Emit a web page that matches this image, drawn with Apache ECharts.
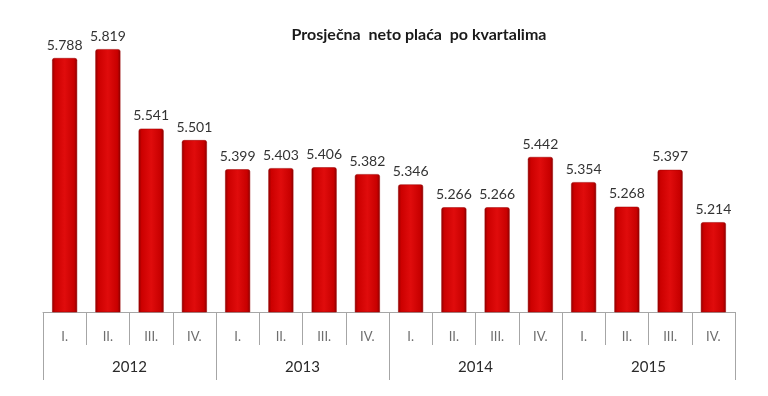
<!DOCTYPE html>
<html><head><meta charset="utf-8">
<script src="https://cdn.jsdelivr.net/npm/echarts@6/dist/echarts.min.js"></script>
<style>html,body{margin:0;padding:0;background:#fff}#c{width:768px;height:396px}</style>
</head><body><div id="c"></div>
<script>
const titleText = 'Prosječna  neto plaća  po kvartalima';
const quarters = ['I.','II.','III.','IV.','I.','II.','III.','IV.','I.','II.','III.','IV.','I.','II.','III.','IV.'];
const years = ['2012','2013','2014','2015'];
const values = [5788,5819,5541,5501,5399,5403,5406,5382,5346,5266,5266,5442,5354,5268,5397,5214];

function fmt(v){ const s=String(Math.round(v)); return s.slice(0,s.length-3)+'.'+s.slice(-3); }

const chart = echarts.init(document.getElementById('c'));
const barColor = new echarts.graphic.LinearGradient(0,0,1,0,[
  {offset:0,color:'#900000'},{offset:0.12,color:'#cc0000'},{offset:0.5,color:'#e00c0c'},
  {offset:0.88,color:'#c80000'},{offset:1,color:'#8c0000'}]);
chart.setOption({
  animation:false,
  title:{text:titleText,left:414,top:22,textAlign:'center',
    textStyle:{fontFamily:'Lato',fontWeight:'bold',fontSize:16,color:'#1a1a1a'}},
  grid:{left:43,right:33,top:26,bottom:84},
  xAxis:[{
    type:'category',data:quarters,position:'bottom',
    axisLine:{lineStyle:{color:'#a6a6a6',width:1}},
    axisTick:{show:true,interval:0,length:33,lineStyle:{color:'#a6a6a6'}},
    axisLabel:{interval:0,margin:18,fontFamily:'Lato',fontSize:13,color:'#6e6e6e'}
  },{
    type:'category',data:years,position:'bottom',
    axisLine:{show:false},
    axisTick:{show:true,interval:0,length:68,lineStyle:{color:'#a6a6a6'}},
    axisLabel:{interval:0,margin:48,fontFamily:'Lato',fontSize:15,color:'#2a2a2a'}
  }],
  yAxis:{type:'value',min:4900,max:5900,show:false,splitLine:{show:false}},
  series:[{
    type:'bar',data:values,xAxisIndex:0,barWidth:25,
    itemStyle:{color:barColor,borderColor:'#9a0000',borderWidth:0.5,borderRadius:[2,2,0,0]},
    label:{show:true,position:'top',distance:6,fontFamily:'Lato',fontSize:14,color:'#333333',
      formatter:p=>fmt(p.value)}
  }]
});
</script></body></html>
